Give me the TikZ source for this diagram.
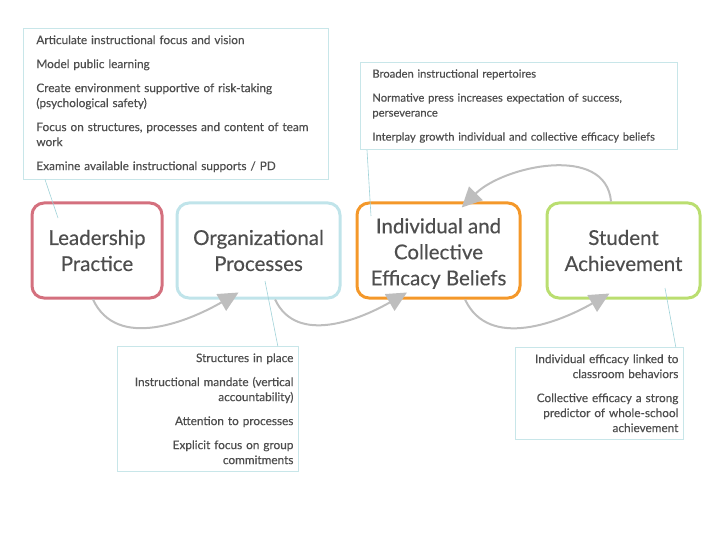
\documentclass[tikz,border=0pt]{standalone}
\usepackage{fontspec}
\setmainfont{Lato}[BoldFont=Lato, BoldFeatures={FakeBold=0.35}]
\usetikzlibrary{arrows.meta,calc}
\hyphenpenalty=10000
\definecolor{txt}{RGB}{78,78,78}
\definecolor{cred}{RGB}{212,112,126}
\definecolor{ccyan}{RGB}{192,228,234}
\definecolor{corange}{RGB}{244,152,42}
\definecolor{cgreen}{RGB}{186,222,112}
\definecolor{cline}{RGB}{200,230,233}
\definecolor{clink}{RGB}{160,210,216}
\definecolor{carrow}{RGB}{190,190,190}
\tikzset{
  mainbox/.style={draw, line width=3pt, rounded corners=12pt, minimum width=#1, minimum height=95pt,
     align=center, text=txt, font=\fontsize{20.5}{26}\selectfont\bfseries, inner sep=0pt},
  callout/.style={draw=cline, line width=0.8pt, text=txt, font=\fontsize{11.8}{15}\selectfont\bfseries,
     inner xsep=12pt, inner ysep=7pt},
  flow/.style={draw=carrow, line width=2pt, -{Triangle[length=20pt,width=19pt]}},
  link/.style={draw=clink, line width=0.6pt}
}
\begin{document}
\begin{tikzpicture}[x=1pt,y=-1pt]
\useasboundingbox (0,0) rectangle (720,540);
% main boxes
\node[mainbox=130pt, draw=cred] (lead) at (97,250.5) {Leadership\\Practice};
\node[mainbox=163pt, draw=ccyan] (org) at (258.5,250.5) {Organizational\\Processes};
\node[mainbox=163pt, draw=corange] (ind) at (438.5,250.5) {\raisebox{0pt}[\dimexpr\height+6pt\relax]{\parbox{160pt}{\centering\fontsize{20.5}{26}\selectfont\bfseries Individual and\\Collective\\Efficacy Beliefs}}};
\node[mainbox=153pt, draw=cgreen] (stu) at (623.5,250.5) {Student\\Achievement};
% callouts
\node[callout, anchor=north west, inner xsep=13pt, text width=279pt, align=left] (c1) at (23,28)
 {Articulate instructional focus and vision\\[9pt]
  Model public learning\\[9pt]
  Create environment supportive of risk-taking\\(psychological safety)\\[9pt]
  Focus on structures, processes and content of team\\work\\[9pt]
  Examine available instructional supports / PD};
\node[callout, anchor=north west, text width=293pt, align=left, font=\fontsize{11.2}{15}\selectfont\bfseries] (c2) at (360,62)
 {Broaden instructional repertoires\\[9pt]
  Normative press increases expectation of success,\\perseverance\\[9pt]
  Interplay growth individual and collective efficacy beliefs};
\node[callout, anchor=north west, inner xsep=5pt, text width=171pt, align=right] (c3) at (117,346)
 {Structures in place\\[9pt]
  Instructional mandate (vertical\\accountability)\\[9pt]
  Attention to processes\\[9pt]
  Explicit focus on group\\commitments};
\node[callout, anchor=north west, inner xsep=5pt, text width=158pt, align=right] (c4) at (515,347)
 {Individual efficacy linked to\\classroom behaviors\\[9pt]
  Collective efficacy a strong\\predictor of whole-school\\achievement};
% callout links
\coordinate (e1) at (58,218);
\coordinate (e2) at (371,216);
\coordinate (e3) at (265,281);
\coordinate (e4) at (665,288);
\draw[link] ($(c1.south west)+(22,0)$) -- (e1);
\draw[link] ($(c2.south west)+(7,0)$) -- (e2);
\draw[link] (e3) -- ($(c3.north east)+(-21,0)$);
\draw[link] (e4) -- ($(c4.north east)+(-8,0)$);
% flow arrows
\draw[flow] ($(lead.south west)!0.47!(lead.south east)$) to[out=-65,in=-150] ($(org.south west)!0.38!(org.south east)+(0,-7)$);
\draw[flow] ($(org.south west)!0.6!(org.south east)$) to[out=-65,in=-150] ($(ind.south west)!0.31!(ind.south east)+(0,-7)$);
\draw[flow] ($(ind.south west)!0.66!(ind.south east)$) to[out=-65,in=-150] ($(stu.south west)!0.41!(stu.south east)+(0,-6)$);
\draw[flow] ($(stu.north west)!0.42!(stu.north east)$) to[out=95,in=45] ($(ind.north west)!0.64!(ind.north east)+(0,6)$);
\end{tikzpicture}
\end{document}
